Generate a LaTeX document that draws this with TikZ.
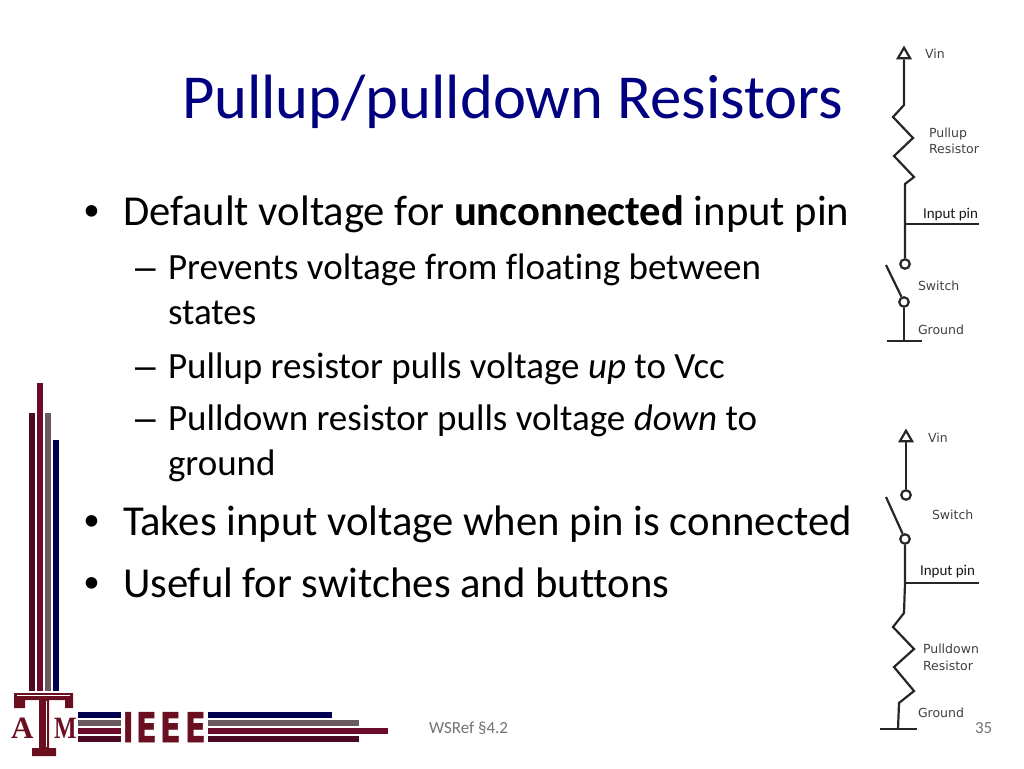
\documentclass[tikz,border=0pt]{standalone}
\usepackage{fontspec}
\setmainfont{Carlito}[Ligatures=CommonOff]
\newfontfamily\labelfont{DejaVu Sans}
\newfontfamily\bulletfont{Liberation Sans}
\newfontfamily\logosans{DejaVu Sans}[BoldFeatures={FakeBold=1.5}]
\newfontfamily\logoserif{Liberation Serif}
\usetikzlibrary{shapes.geometric}
\definecolor{titleblue}{HTML}{000080}
\definecolor{darkmaroon}{HTML}{4A0A25}
\definecolor{maroon}{HTML}{6B0A2A}
\definecolor{barred}{HTML}{6A0F1F}
\definecolor{bargrey}{HTML}{6A5A60}
\definecolor{barnavy}{HTML}{000050}
\tikzset{
    txt/.style={anchor=base west,inner sep=0pt,outer sep=0pt},
    lvlone/.style={txt,font=\fontsize{42.67}{42.67}\selectfont},
    lvltwo/.style={txt,font=\fontsize{37}{37}\selectfont},
    bullet/.style={txt,font=\bulletfont\fontsize{42.67}{42.67}\selectfont},
    dashmark/.style={txt,font=\bulletfont\fontsize{37}{37}\selectfont},
    wire/.style={line width=2.2pt,black!85},
    lbl/.style={txt,font=\labelfont\fontsize{12.5}{12.5}\selectfont,text=black!75},
    pinlbl/.style={txt,font=\fontsize{15}{15}\selectfont,text=black!90},
    vintip/.style={draw,wire,regular polygon,regular polygon sides=3,minimum size=14pt,inner sep=0pt,fill=white},
    contact/.style={draw,wire,circle,minimum size=9.5pt,inner sep=0pt,fill=white},
}
\begin{document}
\begin{tikzpicture}[x=1pt,y=-1pt]
    \useasboundingbox (0,0) rectangle (1024,768);
    % title and text
    \node[txt,text=titleblue,font=\fontsize{62.6}{62.6}\selectfont] (title) at (182,118) {Pullup/pulldown Resistors};
    \node[bullet] (bulA) at (84,225) {•};
    \node[lvlone] (lineA) at (123,225) {Default voltage for \textbf{unconnected} input pin};
    \node[dashmark] (dashA) at (135,279) {–};
    \node[lvltwo] (lineB) at (168,279) {Prevents voltage from floating between};
    \node[lvltwo] (lineC) at (168,324) {states};
    \node[dashmark] (dashB) at (135,378) {–};
    \node[lvltwo] (lineD) at (168,378) {Pullup resistor pulls voltage \textit{up} to Vcc};
    \node[dashmark] (dashC) at (135,430) {–};
    \node[lvltwo] (lineE) at (168,430) {Pulldown resistor pulls voltage \textit{down} to};
    \node[lvltwo] (lineF) at (168,475) {ground};
    \node[bullet] (bulB) at (84,535) {•};
    \node[lvlone] (lineG) at (123,535) {Takes input voltage when pin is connected};
    \node[bullet] (bulC) at (84,597) {•};
    \node[lvlone] (lineH) at (123,597) {Useful for switches and buttons};
    \node[txt,text=black!55,font=\fontsize{17}{17}\selectfont] (ref) at (429,733) {WSRef §4.2};
    \node[txt,text=black!55,font=\fontsize{17}{17}\selectfont] (page) at (975,733) {35};

    % pullup circuit
    \node[vintip] (vinA) at (904,54.7) {};
    \coordinate (rtopA) at (904,105);
    \coordinate (rbotA) at (905,184);
    \coordinate (juncA) at (905,224);
    \coordinate (pinA) at (979,224);
    \coordinate (leverA) at (886,265);
    \node[contact] (swtopA) at (905,264) {};
    \node[contact] (swbotA) at (904,302) {};
    \coordinate (gndA) at (904,341);
    \coordinate (gndAl) at (887,341);
    \coordinate (gndAr) at (922,341);
    \draw[wire] (vinA.south) -- (rtopA) -- (893,117) -- (913,138) -- (894,156) -- (914,177) -- (rbotA) -- (juncA) -- (swtopA);
    \draw[wire] (juncA) -- (pinA);
    \draw[wire] (leverA) -- (swbotA);
    \draw[wire] (swbotA) -- (gndA);
    \draw[wire] (gndAl) -- (gndAr);
    \node[lbl] (vinAl) at (925,59) {Vin};
    \node[lbl] (pullA) at (929,137) {Pullup};
    \node[lbl] (pullB) at (929,153) {Resistor};
    \node[pinlbl] (pinAl) at (923,218) {Input pin};
    \node[lbl] (swAl) at (918,290) {Switch};
    \node[lbl] (gndAt) at (918,334) {Ground};

    % pulldown circuit
    \node[vintip] (vinB) at (906,437.7) {};
    \node[contact] (swtopB) at (906,495) {};
    \coordinate (leverB) at (886,497);
    \node[contact] (swbotB) at (905,539) {};
    \coordinate (juncB) at (905,583);
    \coordinate (pinB) at (979,583);
    \coordinate (rtopB) at (904,613);
    \coordinate (rbotB) at (899,703);
    \coordinate (gndB) at (898,729);
    \coordinate (gndBl) at (880,729);
    \coordinate (gndBr) at (917,729);
    \draw[wire] (vinB.south) -- (swtopB);
    \draw[wire] (leverB) -- (swbotB);
    \draw[wire] (swbotB) -- (juncB) -- (rtopB) -- (893,627) -- (914,649) -- (894,667) -- (914,691) -- (rbotB) -- (gndB);
    \draw[wire] (juncB) -- (pinB);
    \draw[wire] (gndBl) -- (gndBr);
    \node[lbl] (vinBl) at (928,442) {Vin};
    \node[lbl] (swBl) at (932,519) {Switch};
    \node[pinlbl] (pinBl) at (920,575) {Input pin};
    \node[lbl] (pdA) at (923,653) {Pulldown};
    \node[lbl] (pdB) at (923,670) {Resistor};
    \node[lbl] (gndBt) at (918,717) {Ground};

    % logo bars
    \fill[darkmaroon] (29,413) rectangle (35,691);
    \fill[maroon] (37,383) rectangle (43,691);
    \fill[bargrey] (45,413) rectangle (51,691);
    \fill[barnavy] (53,440) rectangle (59,691);
    \fill[barnavy] (78,712) rectangle (121,718);
    \fill[bargrey] (78,720) rectangle (121,726);
    \fill[maroon] (78,728) rectangle (121,734);
    \fill[darkmaroon] (78,736) rectangle (121,742);
    \fill[barnavy] (208,712) rectangle (332,718);
    \fill[bargrey] (208,720) rectangle (359,726);
    \fill[maroon] (208,728) rectangle (388,734);
    \fill[darkmaroon] (208,736) rectangle (359,742);
    % logo letters
    \fill[barred] (14,693) -- (73,693) -- (73,708) -- (65,708) -- (65,700) -- (49,700) -- (49,748) -- (56,748) -- (56,756) -- (32,756) -- (32,748) -- (39,748) -- (39,700) -- (25,700) -- (25,708) -- (14,708) -- cycle;
    \draw[white,line width=0.7pt] (17,695.5) -- (70,695.5);
    \draw[white,line width=0.7pt] (46.5,701) -- (46.5,747);
    \node[txt,text=barred,font=\logoserif\bfseries\fontsize{31}{31}\selectfont] (letA) at (11,738) {A};
    \node[txt,text=barred,xscale=0.77,font=\logoserif\bfseries\fontsize{31}{31}\selectfont] (letM) at (54,738) {M};
    \foreach \px/\ch/\nm in {122.5/I/ieeeA,136/E/ieeeB,160/E/ieeeC,185/E/ieeeD}
        \node[txt,text=barred,xscale=0.74,font=\logosans\bfseries\fontsize{41}{41}\selectfont] (\nm) at (\px,742) {\ch};
\end{tikzpicture}
\end{document}
